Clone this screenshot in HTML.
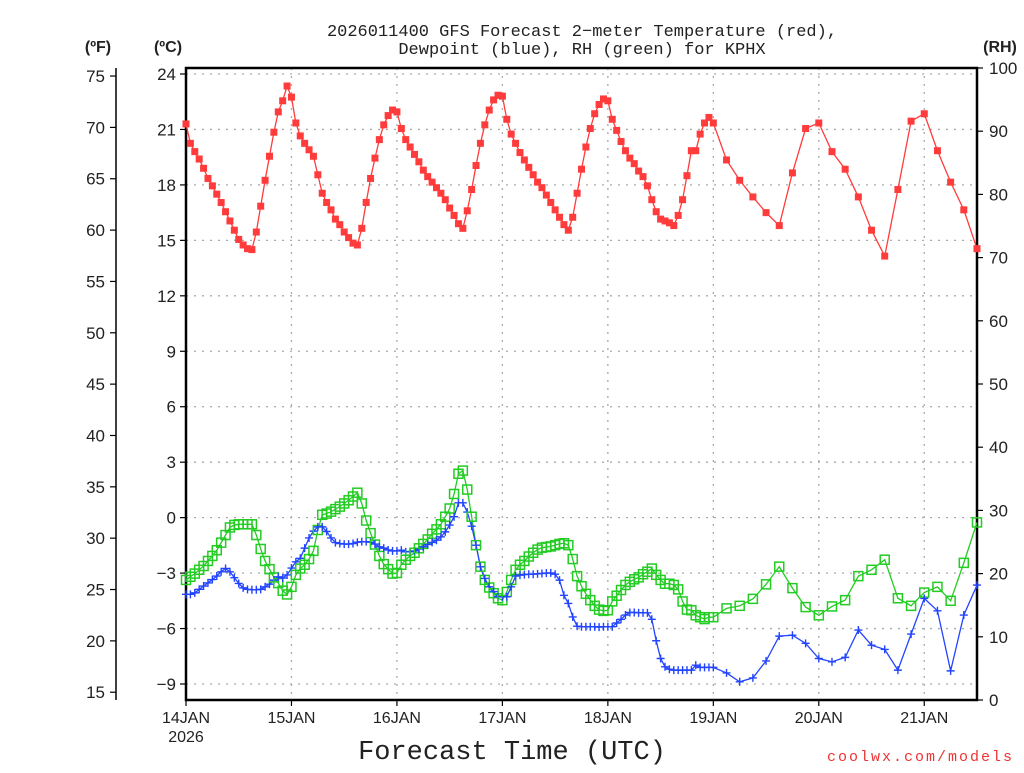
<!DOCTYPE html>
<html><head><meta charset="utf-8"><style>
body{margin:0;background:#fff}
svg text{font-family:"Liberation Sans","DejaVu Sans",sans-serif;fill:#222}
svg text.mono{font-family:"Liberation Mono","DejaVu Sans Mono",monospace}
</style></head><body>
<svg id="chart" width="1024" height="768" xmlns="http://www.w3.org/2000/svg">
<text class="mono" x="582" y="36" font-size="17" text-anchor="middle">2026011400 GFS Forecast 2−meter Temperature (red),</text>
<text class="mono" x="582" y="54" font-size="17" text-anchor="middle">Dewpoint (blue), RH (green) for KPHX</text>
<text x="98" y="52" font-size="16" font-weight="bold" text-anchor="middle">(ºF)</text>
<text x="168" y="52" font-size="16" font-weight="bold" text-anchor="middle">(ºC)</text>
<text x="1000" y="52" font-size="16" font-weight="bold" text-anchor="middle">(RH)</text>
<text class="mono" x="512" y="759" font-size="27" text-anchor="middle">Forecast Time (UTC)</text>
<text class="mono" x="1014" y="761" font-size="15" text-anchor="end" style="fill:#e33" letter-spacing="2">coolwx.com/models</text>
<g id="grid"></g>
<g id="axes"></g>
<g id="series"></g>
</svg>
<script>
const hours=[0,1,2,3,4,5,6,7,8,9,10,11,12,13,14,15,16,17,18,19,20,21,22,23,24,25,26,27,28,29,30,31,32,33,34,35,36,37,38,39,40,41,42,43,44,45,46,47,48,49,50,51,52,53,54,55,56,57,58,59,60,61,62,63,64,65,66,67,68,69,70,71,72,73,74,75,76,77,78,79,80,81,82,83,84,85,86,87,88,89,90,91,92,93,94,95,96,97,98,99,100,101,102,103,104,105,106,107,108,109,110,111,112,113,114,115,116,117,118,119,120,123,126,129,132,135,138,141,144,147,150,153,156,159,162,165,168,171,174,177,180];
const tempC=[21.3,20.25,19.8,19.4,18.9,18.35,17.95,17.5,17.05,16.55,16.05,15.55,15.05,14.75,14.55,14.5,15.45,16.85,18.25,19.55,20.85,21.95,22.55,23.35,22.75,21.35,20.65,20.25,19.9,19.55,18.55,17.55,17.05,16.65,16.15,15.85,15.45,15.15,14.85,14.75,15.65,17.05,18.35,19.45,20.45,21.25,21.75,22.05,21.95,21.05,20.45,20.05,19.65,19.25,18.8,18.45,18.15,17.85,17.55,17.2,16.75,16.35,15.9,15.65,16.6,17.75,19.05,20.25,21.25,22.05,22.6,22.85,22.8,21.55,20.75,20.25,19.75,19.35,18.95,18.55,18.15,17.85,17.45,17.05,16.65,16.25,15.85,15.55,16.25,17.55,18.85,20.05,21.05,21.85,22.35,22.65,22.55,21.55,20.95,20.35,19.85,19.45,19.15,18.75,18.45,17.95,17.2,16.55,16.15,16.05,15.95,15.8,16.35,17.2,18.5,19.85,19.85,20.75,21.35,21.65,21.35,19.35,18.25,17.35,16.5,15.8,18.65,21.05,21.35,19.8,18.85,17.35,15.55,14.15,17.75,21.45,21.85,19.85,18.15,16.65,14.55];
const dewC=[-4.15,-4.15,-4.07,-3.88,-3.7,-3.53,-3.35,-3.16,-2.93,-2.75,-2.93,-3.25,-3.56,-3.8,-3.88,-3.9,-3.9,-3.88,-3.74,-3.6,-3.38,-3.2,-3.27,-3.1,-2.73,-2.39,-2.2,-1.65,-1.1,-0.73,-0.5,-0.5,-0.75,-1.1,-1.35,-1.4,-1.43,-1.43,-1.4,-1.33,-1.3,-1.3,-1.33,-1.43,-1.58,-1.65,-1.75,-1.8,-1.8,-1.76,-1.85,-1.85,-1.8,-1.7,-1.58,-1.45,-1.34,-1.22,-1.04,-0.77,-0.4,0.05,0.8,0.8,0.3,-0.46,-1.49,-2.66,-3.29,-3.74,-4.0,-4.28,-4.28,-4.28,-3.74,-3.16,-3.11,-3.08,-3.06,-3.06,-3.04,-3.02,-3.0,-2.99,-3.06,-3.38,-4.2,-4.64,-5.37,-5.87,-5.9,-5.9,-5.9,-5.9,-5.92,-5.9,-5.9,-5.9,-5.7,-5.5,-5.27,-5.13,-5.13,-5.15,-5.15,-5.15,-5.5,-6.66,-7.62,-8.07,-8.2,-8.25,-8.25,-8.25,-8.25,-8.25,-7.98,-8.1,-8.1,-8.1,-8.1,-8.4,-8.88,-8.67,-7.75,-6.41,-6.36,-6.8,-7.62,-7.8,-7.56,-6.08,-6.9,-7.13,-8.25,-6.3,-4.37,-5.04,-8.29,-5.27,-3.65];
const rhPct=[19.0,19.5,20.0,20.6,21.2,22.0,22.8,23.7,24.9,26.1,27.3,27.7,27.8,27.8,27.8,27.8,26.1,23.9,22.0,20.7,19.4,18.5,17.3,16.7,17.9,19.8,20.8,21.4,22.3,23.6,26.9,29.3,29.5,29.8,30.2,30.6,31.1,31.6,32.2,32.8,31.1,28.4,26.4,24.6,22.8,21.5,20.7,20.0,20.1,21.4,22.2,22.8,23.3,24.0,24.7,25.4,26.3,27.0,27.8,29.0,30.3,32.6,35.8,36.3,33.3,29.0,24.5,21.1,19.0,17.8,16.9,16.1,15.8,17.1,19.0,20.6,21.4,22.0,22.7,23.3,23.8,24.1,24.2,24.3,24.5,24.7,24.8,24.5,22.3,19.6,18.0,16.8,15.8,14.9,14.3,14.1,14.2,15.6,16.5,17.4,18.2,18.7,19.1,19.4,19.9,20.3,20.8,19.8,19.0,18.4,18.4,18.2,17.5,15.6,14.3,14.2,13.4,13.1,12.8,13.1,13.1,14.5,14.9,16.0,18.3,21.1,17.7,14.7,13.4,14.8,15.8,19.6,20.6,22.2,16.1,14.9,17.0,17.9,15.7,21.7,28.1];
const cTicks=[24,21,18,15,12,9,6,3,0,-3,-6,-9];
const cTickLabels=["24","21","18","15","12","9","6","3","0","−3","−6","−9"];
const fTicks=[75,70,65,60,55,50,45,40,35,30,25,20,15];
const rhTicks=[100,90,80,70,60,50,40,30,20,10,0];
const dayHours=[0,24,48,72,96,120,144,168];
const dayLabels=["14JAN","15JAN","16JAN","17JAN","18JAN","19JAN","20JAN","21JAN"];

const NS="http://www.w3.org/2000/svg";
const L=186,R=977,T=68,B=700;
const xS=h=>L+(h/180)*(R-L);
const yC=c=>74+(24-c)*(684-74)/33;
const yF=f=>yC((f-32)*5/9);
const yRH=r=>B-(r/100)*(B-T);
function mk(tag,attrs,parent){const e=document.createElementNS(NS,tag);for(const k in attrs)e.setAttribute(k,attrs[k]);parent.appendChild(e);return e;}
const grid=document.getElementById('grid'),axes=document.getElementById('axes'),series=document.getElementById('series');

cTicks.forEach((c,i)=>{
  const y=yC(c);
  const g=mk('line',{x1:L,x2:R,y1:y,y2:y,stroke:'#aaa','stroke-width':1.3,'stroke-dasharray':'2,6'},grid);
  
  
  const t=mk('line',{x1:L-6,x2:L,y1:y,y2:y,stroke:'#000','stroke-width':1.2},axes);
  
  
  const tx=mk('text',{x:L-10,y:y+6,'font-size':17,'text-anchor':'end'},axes);
  tx.textContent=cTickLabels[i];
  
  
});
dayHours.forEach((h,i)=>{
  const x=xS(h);
  if(i>0){const g=mk('line',{x1:x,x2:x,y1:T,y2:B,stroke:'#aaa','stroke-width':1.3,'stroke-dasharray':'2,6'},grid);
  
  }
  const t=mk('line',{x1:x,x2:x,y1:B,y2:B+6,stroke:'#000','stroke-width':1.2},axes);
  
  
  const tx=mk('text',{x:x,y:B+23,'font-size':16,'text-anchor':'middle'},axes);
  tx.textContent=dayLabels[i];
  
  
});
const yr=mk('text',{x:xS(0),y:B+42,'font-size':16,'text-anchor':'middle'},axes);
yr.textContent='2026';



fTicks.forEach(f=>{
  const y=yF(f);
  const t=mk('line',{x1:110,x2:116,y1:y,y2:y,stroke:'#000','stroke-width':1.2},axes);
  
  
  const tx=mk('text',{x:105,y:y+6,'font-size':17,'text-anchor':'end'},axes);
  tx.textContent=String(f);
  
  
});
rhTicks.forEach(r=>{
  const y=yRH(r);
  const t=mk('line',{x1:R,x2:R+6,y1:y,y2:y,stroke:'#000','stroke-width':1.2},axes);
  
  
  const tx=mk('text',{x:R+12,y:y+6,'font-size':17,'text-anchor':'start'},axes);
  tx.textContent=String(r);
  
  
});
const fa=mk('line',{x1:116,x2:116,y1:T,y2:B,stroke:'#000','stroke-width':1.5},axes);


const frame=mk('rect',{x:L,y:T,width:R-L,height:B-T,fill:'none',stroke:'#000','stroke-width':2.5},axes);



function line(vals,yf,color,name){
  const p=mk('polyline',{points:hours.map((h,i)=>xS(h)+','+yf(vals[i])).join(' '),fill:'none',stroke:color,'stroke-width':1.3},series);
  
  
}
line(rhPct,yRH,'#22cc22','rh-line');
line(dewC,yC,'#2244ff','dewpoint-line');
line(tempC,yC,'#ff3b3b','temperature-line');
hours.forEach((h,i)=>{
  const x=xS(h);
  let y=yRH(rhPct[i]);
  const s=mk('rect',{x:x-4.5,y:y-4.5,width:9,height:9,fill:'none',stroke:'#22cc22','stroke-width':1.5},series);
  
  
  y=yC(dewC[i]);
  const d=mk('path',{d:`M${x-4},${y}H${x+4}M${x},${y-4}V${y+4}`,stroke:'#2244ff','stroke-width':1.4},series);
  
  
});
hours.forEach((h,i)=>{
  const x=xS(h),y=yC(tempC[i]);
  const s=mk('rect',{x:x-3.5,y:y-3.5,width:7,height:7,fill:'#ff3b3b'},series);
  
  
});
</script>
</body></html>
